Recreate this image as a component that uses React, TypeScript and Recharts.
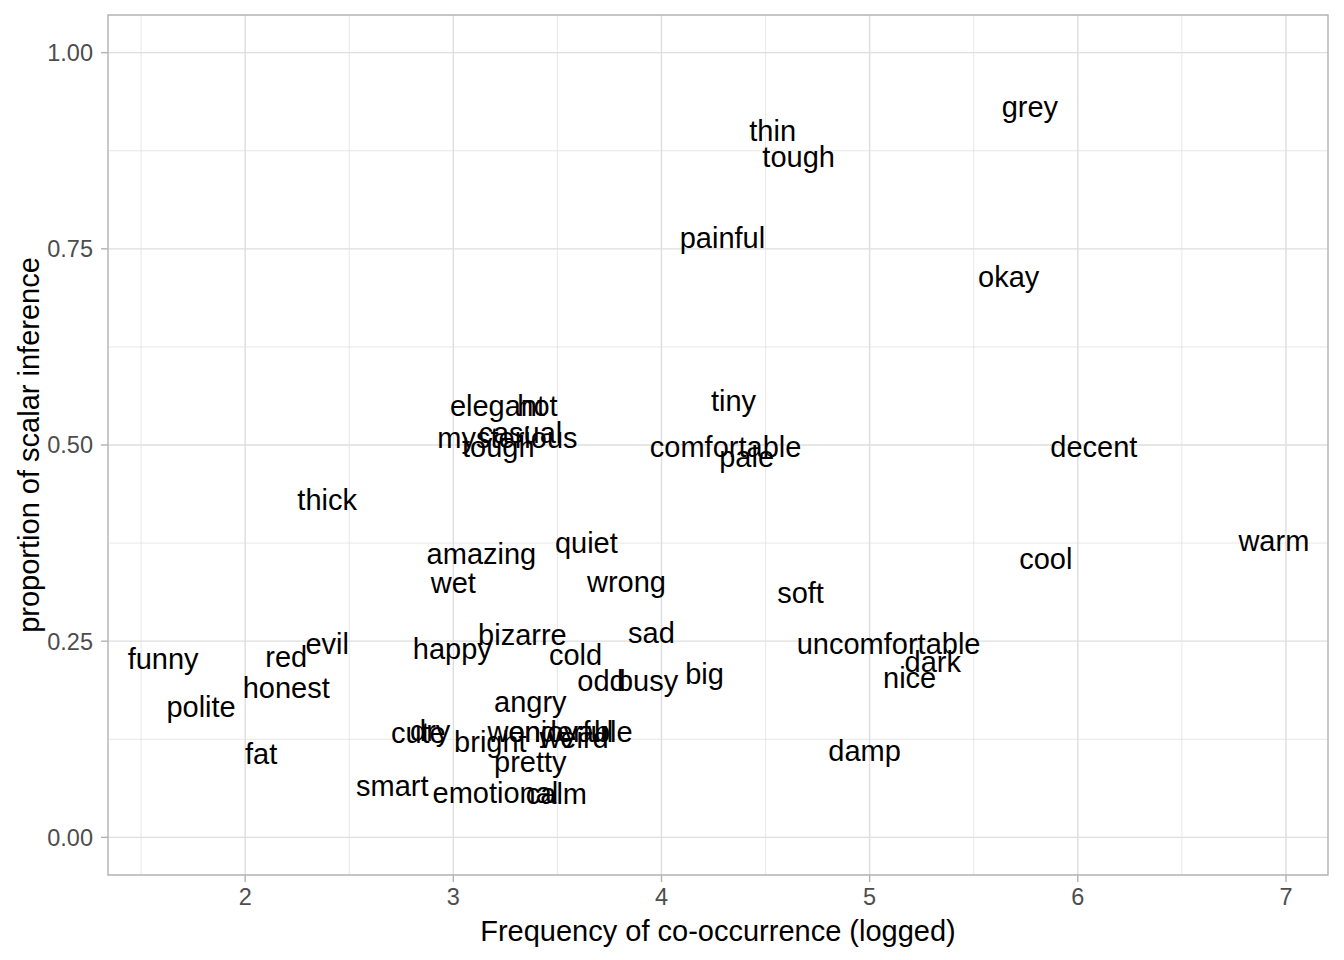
import React from "react";
import {
  ScatterChart,
  Scatter,
  XAxis,
  YAxis,
  CartesianGrid,
  ReferenceArea,
} from "recharts";

const words = [
  "grey", "thin", "tough", "painful", "okay", "tiny", "elegant", "hot", "casual",
  "mysterious", "tough", "comfortable", "pale", "decent", "thick", "amazing", "quiet",
  "warm", "cool", "wet", "wrong", "soft", "evil", "bizarre", "sad", "uncomfortable",
  "funny", "red", "happy", "cold", "dark", "nice", "big", "odd", "busy", "honest",
  "polite", "angry", "cute", "dry", "wonderful", "enjoyable", "weird", "bright",
  "pretty", "smart", "emotional", "calm", "fat", "damp",
];
const freqLogged = [
  5.77, 4.534, 4.659, 4.293, 5.668, 4.346, 3.212, 3.404, 3.322,
  3.26, 3.216, 4.308, 4.409, 6.077, 2.394, 3.135, 3.639,
  6.942, 5.846, 3.0, 3.832, 4.668, 2.394, 3.332, 3.952, 5.091,
  1.606, 2.197, 2.995, 3.587, 5.303, 5.192, 4.207, 3.712, 3.933, 2.197,
  1.788, 3.37, 2.832, 2.889, 3.466, 3.563, 3.58, 3.178,
  3.37, 2.707, 3.202, 3.495, 2.077, 4.976,
];
const proportion = [
  0.931, 0.9, 0.867, 0.764, 0.714, 0.556, 0.55, 0.55, 0.515,
  0.509, 0.497, 0.497, 0.485, 0.497, 0.43, 0.361, 0.375,
  0.378, 0.355, 0.324, 0.325, 0.311, 0.247, 0.258, 0.26, 0.247,
  0.227, 0.23, 0.24, 0.232, 0.224, 0.203, 0.208, 0.199, 0.199, 0.19,
  0.166, 0.173, 0.133, 0.136, 0.134, 0.134, 0.126, 0.122,
  0.096, 0.066, 0.056, 0.055, 0.106, 0.11,
];

const xTicks = [2, 3, 4, 5, 6, 7];
const xMinor = [1.5, 2.5, 3.5, 4.5, 5.5, 6.5];
const yTicks = [0, 0.25, 0.5, 0.75, 1];
const yMinor = [0.125, 0.375, 0.625, 0.875];

const X_DOMAIN: [number, number] = [1.341, 7.202];
const Y_DOMAIN: [number, number] = [-0.048, 1.048];

const data = words.map((w, i) => ({ word: w, x: freqLogged[i], y: proportion[i] }));

const FONT = "'Liberation Sans', Arial, Helvetica, sans-serif";

const LabelShape = (props: any) => {
  const { cx, cy, payload } = props;
  return (
    <text
      x={cx}
      y={cy}
      textAnchor="middle"
      dominantBaseline="central"
      fontFamily={FONT}
      fontSize={29}
      fill="#000000"
    >
      {payload.word}
    </text>
  );
};

export default function App() {
  return (
    <div style={{ position: "absolute", left: 0, top: 0, width: 1344, height: 960, background: "#ffffff" }}>
      <ScatterChart
        width={1344}
        height={960}
        margin={{ top: 15, right: 16, bottom: 0, left: 0 }}
      >
        <CartesianGrid
          horizontalValues={yMinor}
          verticalValues={xMinor}
          stroke="#dedede"
          strokeWidth={0.7}
        />
        <CartesianGrid
          horizontalValues={yTicks}
          verticalValues={xTicks}
          stroke="#dedede"
          strokeWidth={1.4}
        />
        <XAxis
          type="number"
          dataKey="x"
          domain={X_DOMAIN}
          ticks={xTicks}
          allowDataOverflow
          height={85}
          axisLine={false}
          tickLine={{ stroke: "#b3b3b3", strokeWidth: 1.4 }}
          tickSize={7}
          tickMargin={6}
          tick={{ fill: "#4d4d4d", fontSize: 23.5, fontFamily: FONT }}
          label={{
            content: () => (
              <text
                x={718}
                y={931}
                textAnchor="middle"
                dominantBaseline="central"
                fontFamily={FONT}
                fontSize={29}
                fill="#000000"
              >
                Frequency of co-occurrence (logged)
              </text>
            ),
          }}
        />
        <YAxis
          type="number"
          dataKey="y"
          domain={Y_DOMAIN}
          ticks={yTicks}
          allowDataOverflow
          width={108}
          axisLine={false}
          tickLine={{ stroke: "#b3b3b3", strokeWidth: 1.4 }}
          tickSize={7}
          tickMargin={8}
          tickFormatter={(v: number) => v.toFixed(2)}
          tick={{ fill: "#4d4d4d", fontSize: 23.5, fontFamily: FONT }}
          label={{
            content: () => (
              <text
                x={29}
                y={445}
                textAnchor="middle"
                dominantBaseline="central"
                transform="rotate(-90 29 445)"
                fontFamily={FONT}
                fontSize={29}
                fill="#000000"
              >
                proportion of scalar inference
              </text>
            ),
          }}
        />
        <ReferenceArea
          x1={X_DOMAIN[0]}
          x2={X_DOMAIN[1]}
          y1={Y_DOMAIN[0]}
          y2={Y_DOMAIN[1]}
          fill="none"
          fillOpacity={0}
          stroke="#b3b3b3"
          strokeWidth={1.4}
          ifOverflow="visible"
        />
        <Scatter
          data={data}
          isAnimationActive={false}
          shape={LabelShape}
        />
      </ScatterChart>
    </div>
  );
}
